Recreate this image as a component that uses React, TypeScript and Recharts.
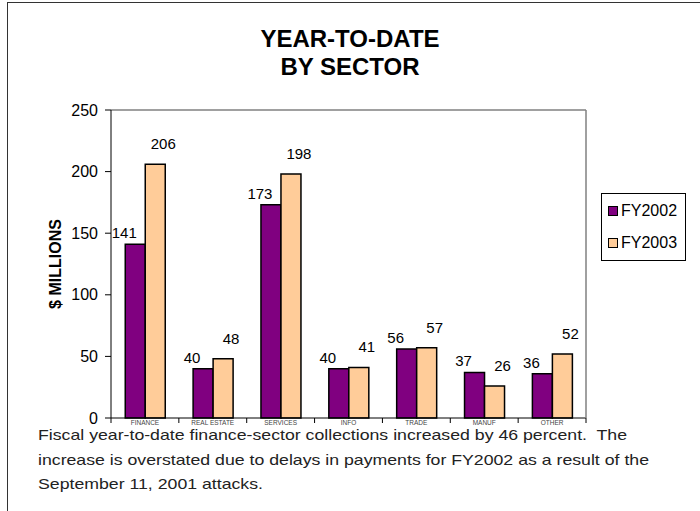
import { BarChart, Bar, XAxis, YAxis, LabelList } from 'recharts';

const sectors = ['FINANCE', 'REAL ESTATE', 'SERVICES', 'INFO', 'TRADE', 'MANUF', 'OTHER'];
const fy2002 = [141, 40, 173, 40, 56, 37, 36];
const fy2003 = [206, 48, 198, 41, 57, 26, 52];
const yTicks = [0, 50, 100, 150, 200, 250];
const seriesNames = ['FY2002', 'FY2003'];
const seriesColors = ['#800080', '#FFCC99'];

const data = sectors.map((sector, i) => ({ sector, FY2002: fy2002[i], FY2003: fy2003[i] }));

const FONT = '"Liberation Sans", Arial, sans-serif';
const W = 700;
const H = 511;
const margin = { top: 109, right: 113, bottom: 83, left: 51 };
const plotW = W - margin.left - 60 - margin.right - 1;
const band = plotW / sectors.length;

const CategoryTick = (props: any) => {
  const { x, y, payload, index } = props;
  return (
    <g>
      <line x1={x - band / 2} y1={y - 8} x2={x - band / 2} y2={y - 3} stroke="#000" />
      {index === sectors.length - 1 && (
        <line x1={x + band / 2} y1={y - 8} x2={x + band / 2} y2={y - 3} stroke="#000" />
      )}
      <text x={x} y={y - 1} textAnchor="middle" fontSize={6.5} fill="#444" fontFamily={FONT}>
        {payload.value}
      </text>
    </g>
  );
};

const makeLabel = (dx: number, dy: number) => (props: any) => {
  const { x, y, width, value } = props;
  return (
    <text x={x + width / 2 + dx} y={y + dy} textAnchor="middle" fontSize={15} fill="#000" fontFamily={FONT}>
      {value}
    </text>
  );
};

const LegendBox = () => (
  <div
    style={{
      position: 'absolute',
      left: 601,
      top: 193,
      border: '1px solid #000',
      width: 85,
      height: 68,
      boxSizing: 'border-box',
      padding: '1px 0 0 6px',
      fontFamily: FONT,
      fontSize: 16,
      background: '#fff',
    }}
  >
    {seriesNames.map((name, i) => (
      <div key={name} style={{ display: 'flex', alignItems: 'center', height: 32 }}>
        <span
          style={{
            width: 8,
            height: 8,
            background: seriesColors[i],
            border: '1px solid #000',
            marginRight: 3,
            display: 'inline-block',
          }}
        />
        <span>{name}</span>
      </div>
    ))}
  </div>
);

export default function App() {
  return (
    <div style={{ position: 'absolute', left: 0, top: 0, width: W, height: H, background: '#fff', overflow: 'hidden' }}>
      <div
        style={{
          position: 'absolute',
          left: 7,
          top: 2,
          width: W,
          height: H,
          borderTop: '1px solid #333',
          borderLeft: '1px solid #333',
        }}
      />
      <div
        style={{
          position: 'absolute',
          left: 0,
          top: 25,
          width: W,
          textAlign: 'center',
          fontFamily: FONT,
          fontWeight: 'bold',
          fontSize: 24,
          lineHeight: '28px',
          color: '#000',
        }}
      >
        YEAR-TO-DATE
        <br />
        BY SECTOR
      </div>
      <div style={{ position: 'absolute', left: 0, top: 0 }}>
        <BarChart width={W} height={H} data={data} margin={margin} barCategoryGap="21%" barGap={0}>
          <XAxis
            dataKey="sector"
            tick={<CategoryTick />}
            tickLine={false}
            stroke="#000"
            interval={0}
            height={10}
          />
          <XAxis xAxisId="top" dataKey="sector" orientation="top" tick={false} tickLine={false} height={1} stroke="#808080" strokeWidth={1.5} />
          <YAxis
            domain={[0, 250]}
            ticks={yTicks}
            tickSize={6}
            tickMargin={7}
            stroke="#000"
            tick={{ fill: '#000', fontSize: 16, fontFamily: FONT }}
            width={60}
            label={{
              value: '$ MILLIONS',
              angle: -90,
              position: 'insideLeft',
              offset: 0,
              dx: 4,
              style: { fontFamily: FONT, fontWeight: 'bold', fontSize: 16, fill: '#000', textAnchor: 'middle' },
            }}
          />
          <YAxis yAxisId="right" orientation="right" domain={[0, 250]} tick={false} tickLine={false} width={1} stroke="#808080" strokeWidth={1.5} />
          <Bar dataKey="FY2002" fill={seriesColors[0]} stroke="#000" strokeWidth={1.5} isAnimationActive={false}>
            <LabelList dataKey="FY2002" content={makeLabel(-11, -6)} />
          </Bar>
          <Bar dataKey="FY2003" fill={seriesColors[1]} stroke="#000" strokeWidth={1.5} isAnimationActive={false}>
            <LabelList dataKey="FY2003" content={makeLabel(8, -15)} />
          </Bar>
        </BarChart>
      </div>
      <LegendBox />
      <div
        style={{
          position: 'absolute',
          left: 38,
          top: 423,
          width: 560,
          fontFamily: FONT,
          fontSize: 15,
          lineHeight: '24.5px',
          color: '#222',
          whiteSpace: 'pre',
          transform: 'scaleX(1.18)',
          transformOrigin: 'left top',
        }}
      >
        {'Fiscal year-to-date finance-sector collections increased by 46 percent.  The\nincrease is overstated due to delays in payments for FY2002 as a result of the\nSeptember 11, 2001 attacks.'}
      </div>
    </div>
  );
}
